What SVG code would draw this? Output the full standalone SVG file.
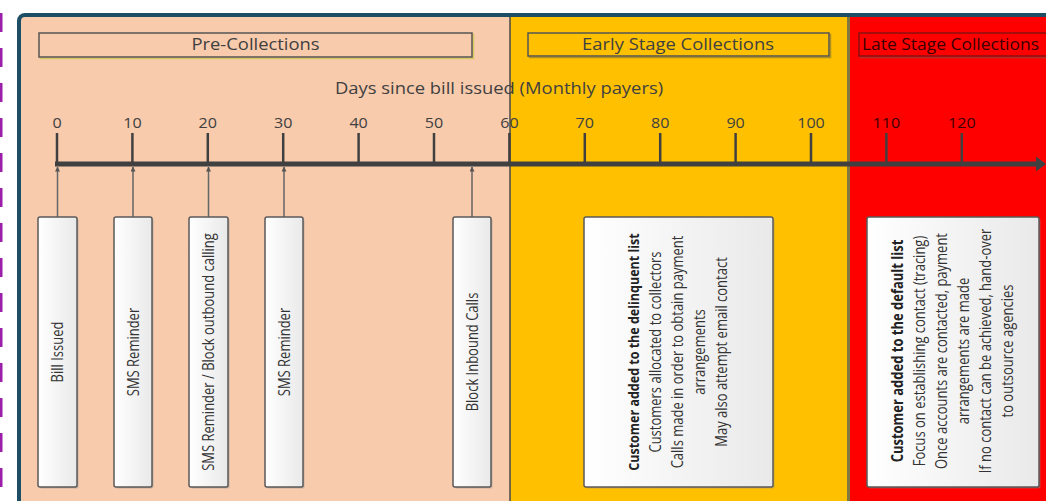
<svg xmlns="http://www.w3.org/2000/svg" width="1046" height="501" viewBox="0 0 1046 501">
<style>
text{font-family:"Open Sans","Liberation Sans",sans-serif;fill:#404040}
.hd{font-size:16px}
.tk{font-size:14px;text-anchor:middle}
.r{font-size:13px;text-anchor:middle;dominant-baseline:central;fill:#333}
.b{font-weight:700;fill:#222}
.box{fill:url(#g);stroke:#5a5a5a;stroke-width:1.5}
.sh{fill:#8a8a8a;opacity:.45}
.tick{stroke:#404040;stroke-width:2.5}
.con{stroke:#666;stroke-width:1.5;fill:none;marker-end:url(#ah)}
</style>
<defs>
<linearGradient id="g" x1="0" y1="0" x2="1" y2="0">
<stop offset="0" stop-color="#ffffff"/>
<stop offset="1" stop-color="#e9e9e9"/>
</linearGradient>
<marker id="ah" viewBox="0 0 10 10" refX="9" refY="5" markerWidth="5" markerHeight="5" orient="auto" markerUnits="userSpaceOnUse">
<path d="M0,0L10,5L0,10z" fill="#555"/>
</marker>
</defs>
<rect width="1046" height="501" fill="#fff"/>
<g id="page-edge" stroke="#9b1fa8" stroke-width="3" stroke-dasharray="19 16">
<line x1="1" y1="13" x2="1" y2="501"/>
</g>
<g id="zones">
<rect x="19" y="15" width="491" height="490" fill="#f8cbad"/>
<rect x="510" y="15" width="338" height="490" fill="#ffc000"/>
<rect x="848" y="15" width="200" height="490" fill="#ff0000"/>
<line x1="510" y1="17" x2="510" y2="501" stroke="#4a4a4a" stroke-width="1.5"/>
<line x1="848.5" y1="17" x2="848.5" y2="501" stroke="#807840" stroke-width="3"/>
<rect x="19" y="15" width="1100" height="600" rx="6" fill="none" stroke="#1d4e66" stroke-width="4"/>
</g>
<g id="hdr-pre">
<rect x="40.5" y="34.5" width="433" height="24" fill="none" stroke="#d8c860" stroke-width="1.5"/>
<rect x="39" y="33" width="433" height="24" fill="#f8cbad" stroke="#555" stroke-width="1.5"/>
<text class="hd" text-anchor="middle" transform="translate(255.5,50) scale(1.15,1)">Pre-Collections</text>
</g>
<g id="hdr-early">
<rect x="529.5" y="34.5" width="301" height="23" fill="none" stroke="#b09020" stroke-width="1.5"/>
<rect x="528" y="33" width="301" height="23" fill="#ffc000" stroke="#555" stroke-width="1.5"/>
<text class="hd" text-anchor="middle" transform="translate(678,50) scale(1.15,1)">Early Stage Collections</text>
</g>
<g id="hdr-late">
<rect x="860.5" y="34.5" width="220" height="23" fill="none" stroke="#b03030" stroke-width="1.5"/>
<rect x="859" y="33" width="220" height="23" fill="#ff0000" stroke="#8a1010" stroke-width="1.5"/>
<text class="hd" style="fill:#3a0000" transform="translate(862,50) scale(1.09,1)">Late Stage Collections</text>
</g>
<g id="axis-title">
<text class="hd" text-anchor="middle" transform="translate(499,94) scale(1.15,1)">Days since bill issued (Monthly payers)</text>
</g>
<g id="timeline">
<line x1="55" y1="164" x2="1038" y2="164" stroke="#404040" stroke-width="5"/>
<path d="M1036,156.5L1046,164L1036,171.5z" fill="#404040"/>
<g class="tick">
<line x1="57" y1="133" x2="57" y2="164"/>
<line x1="132.4" y1="133" x2="132.4" y2="164"/>
<line x1="207.8" y1="133" x2="207.8" y2="164"/>
<line x1="283.2" y1="133" x2="283.2" y2="164"/>
<line x1="358.6" y1="133" x2="358.6" y2="164"/>
<line x1="434" y1="133" x2="434" y2="164"/>
<line x1="509.4" y1="133" x2="509.4" y2="164"/>
<line x1="584.8" y1="133" x2="584.8" y2="164"/>
<line x1="660.2" y1="133" x2="660.2" y2="164"/>
<line x1="735.6" y1="133" x2="735.6" y2="164"/>
<line x1="811" y1="133" x2="811" y2="164"/>
<line x1="886.4" y1="133" x2="886.4" y2="164"/>
<line x1="961.8" y1="133" x2="961.8" y2="164"/>
</g>
<text class="tk" transform="translate(57,128) scale(1.15,1)">0</text>
<text class="tk" transform="translate(132.4,128) scale(1.15,1)">10</text>
<text class="tk" transform="translate(207.8,128) scale(1.15,1)">20</text>
<text class="tk" transform="translate(283.2,128) scale(1.15,1)">30</text>
<text class="tk" transform="translate(358.6,128) scale(1.15,1)">40</text>
<text class="tk" transform="translate(434,128) scale(1.15,1)">50</text>
<text class="tk" transform="translate(509.4,128) scale(1.15,1)">60</text>
<text class="tk" transform="translate(584.8,128) scale(1.15,1)">70</text>
<text class="tk" transform="translate(660.2,128) scale(1.15,1)">80</text>
<text class="tk" transform="translate(735.6,128) scale(1.15,1)">90</text>
<text class="tk" transform="translate(811,128) scale(1.15,1)">100</text>
<text class="tk" style="fill:#400000" transform="translate(886.4,128) scale(1.15,1)">110</text>
<text class="tk" style="fill:#400000" transform="translate(961.8,128) scale(1.15,1)">120</text>
</g>
<g id="connectors">
<line class="con" x1="57.5" y1="217" x2="57.5" y2="167"/>
<line class="con" x1="133" y1="217" x2="133" y2="167"/>
<line class="con" x1="208.5" y1="217" x2="208.5" y2="167"/>
<line class="con" x1="284" y1="217" x2="284" y2="167"/>
<line class="con" x1="472" y1="217" x2="472" y2="167"/>
</g>
<g id="bill-issued">
<rect class="sh" x="39.5" y="218.5" width="39" height="270" rx="2"/>
<rect class="box" x="38" y="217" width="39" height="270" rx="2"/>
<text class="r" transform="translate(57.5,352) scale(1.2,1) rotate(-90)">Bill Issued</text>
</g>
<g id="sms-reminder-10">
<rect class="sh" x="115.5" y="218.5" width="38" height="270" rx="2"/>
<rect class="box" x="114" y="217" width="38" height="270" rx="2"/>
<text class="r" transform="translate(133,352) scale(1.2,1) rotate(-90)">SMS Reminder</text>
</g>
<g id="sms-block-outbound">
<rect class="sh" x="190.5" y="218.5" width="39" height="270" rx="2"/>
<rect class="box" x="189" y="217" width="39" height="270" rx="2"/>
<text class="r" transform="translate(208.5,352) scale(1.2,1) rotate(-90)">SMS Reminder / Block outbound calling</text>
</g>
<g id="sms-reminder-30">
<rect class="sh" x="266.5" y="218.5" width="38" height="270" rx="2"/>
<rect class="box" x="265" y="217" width="38" height="270" rx="2"/>
<text class="r" transform="translate(284,352) scale(1.2,1) rotate(-90)">SMS Reminder</text>
</g>
<g id="block-inbound">
<rect class="sh" x="454.5" y="218.5" width="38" height="270" rx="2"/>
<rect class="box" x="453" y="217" width="38" height="270" rx="2"/>
<text class="r" transform="translate(472,352) scale(1.2,1) rotate(-90)">Block Inbound Calls</text>
</g>
<g id="delinquent">
<rect class="sh" x="585.5" y="218.5" width="189" height="270" rx="2"/>
<rect class="box" x="584" y="217" width="189" height="270" rx="2"/>
<text class="r b" style="font-size:12.5px" transform="translate(633,352) scale(1.2,1) rotate(-90)">Customer added to the delinquent list</text>
<text class="r" transform="translate(655,352) scale(1.2,1) rotate(-90)">Customers allocated to collectors</text>
<text class="r" transform="translate(677,352) scale(1.2,1) rotate(-90)">Calls made in order to obtain payment</text>
<text class="r" transform="translate(699,352) scale(1.2,1) rotate(-90)">arrangements</text>
<text class="r" transform="translate(721,352) scale(1.2,1) rotate(-90)">May also attempt email contact</text>
</g>
<g id="default">
<rect class="sh" x="868.5" y="218.5" width="172" height="270" rx="2"/>
<rect class="box" x="867" y="217" width="172" height="270" rx="2"/>
<text class="r b" transform="translate(897,351) scale(1.2,1) rotate(-90)">Customer added to the default list</text>
<text class="r" transform="translate(919,351) scale(1.2,1) rotate(-90)">Focus on establishing contact (tracing)</text>
<text class="r" transform="translate(941,351) scale(1.2,1) rotate(-90)">Once accounts are contacted, payment</text>
<text class="r" transform="translate(963,351) scale(1.2,1) rotate(-90)">arrangements are made</text>
<text class="r" transform="translate(985,351) scale(1.2,1) rotate(-90)">If no contact can be achieved, hand-over</text>
<text class="r" transform="translate(1007,351) scale(1.2,1) rotate(-90)">to outsource agencies</text>
</g>
</svg>
